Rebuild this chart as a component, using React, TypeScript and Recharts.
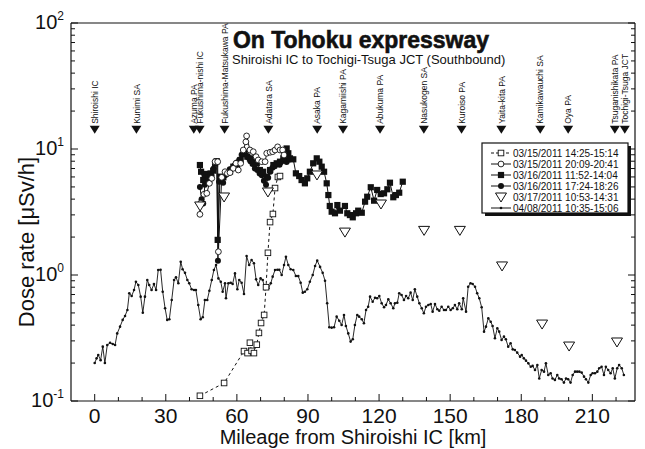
import React from 'react';
import { ComposedChart, Line, Scatter, XAxis, YAxis } from 'recharts';

const FONT = '"Liberation Sans", Arial, sans-serif';
const INK = '#111';

// ---- axes ----
const X_DOMAIN = [-10, 228];
const X_TICKS = [0, 10, 20, 30, 40, 50, 60, 70, 80, 90, 100, 110, 120, 130, 140, 150, 160, 170, 180, 190, 200, 210, 220];
const X_LABELS = [0, 30, 60, 90, 120, 150, 180, 210];
const Y_DOMAIN = [0.1, 100];
const Y_MAJOR = [0.1, 1, 10, 100];
const Y_EXPONENTS = ['-1', '0', '1', '2'];
const Y_MINOR = [0.2, 0.3, 0.4, 0.5, 0.6, 0.7, 0.8, 0.9, 2, 3, 4, 5, 6, 7, 8, 9, 20, 30, 40, 50, 60, 70, 80, 90];
const Y_ALL_TICKS = [...Y_MAJOR, ...Y_MINOR].sort((a, b) => a - b);

// ---- landmarks along the expressway (km) ----
const LANDMARK_NAMES = ['Shiroishi IC', 'Kunimi SA', 'Azuma PA', 'Fukushima-nishi IC', 'Fukushima-Matsukawa PA', 'Adatara SA', 'Asaka PA', 'Kagamiishi PA', 'Abukuma PA', 'Nasukogen SA', 'Kuroiso PA', 'Yaita-kita PA', 'Kamikawauchi SA', 'Oya PA', 'Tsuganishikata PA', 'Tochigi-Tsuga JCT'];
const LANDMARK_KM = [0, 17.6, 41.8, 44.3, 54.8, 73.3, 93.9, 104.8, 120.4, 138.9, 154.8, 171.6, 188.0, 199.8, 219.5, 223.7];
const LANDMARK_LEVEL = 14.2;

// ---- series: [km, dose rate µSv/h] ----
const S_0315_1425 = [[44.4, 0.110], [54.6, 0.139], [63.0, 0.249], [64.5, 0.24], [65.5, 0.29], [66.2, 0.25], [67.2, 0.24], [68.4, 0.28], [69.3, 0.347], [70.2, 0.416], [71.5, 0.482], [72.3, 0.80], [73.1, 1.50], [74.0, 2.63], [75.2, 3.05], [76.1, 4.90], [77.3, 6.0], [78.2, 6.1]];

const S_0315_2009 = [[44.4, 3.03], [44.7, 3.71], [46.1, 4.37], [47.3, 4.45], [48.4, 5.34], [49.4, 5.85], [50.8, 7.93], [51.9, 7.93], [52.2, 1.53], [53.6, 5.96], [55.0, 6.6], [56.0, 6.41], [57.1, 6.49], [58.5, 7.03], [59.6, 7.7], [60.6, 6.81], [61.6, 7.7], [62.7, 9.82], [63.8, 11.4], [64.1, 12.7], [65.5, 9.82], [66.9, 9.52], [68.1, 8.69], [69.0, 8.18], [70.5, 7.93], [71.9, 7.93], [72.6, 9.25], [74.0, 9.42], [75.1, 9.52], [76.1, 9.82], [77.2, 10.4], [78.2, 9.82], [79.3, 9.82], [79.9, 8.96]];

const S_0316_1152 = [[44.4, 7.46], [44.9, 6.6], [45.8, 5.67], [46.5, 6.34], [47.9, 5.96], [48.9, 6.4], [50.0, 6.73], [50.8, 7.7], [51.5, 8.0], [51.9, 1.9], [52.9, 6.03], [54.3, 5.96], [55.4, 6.4], [57.1, 6.6], [58.5, 7.24], [59.9, 7.46], [61.6, 8.18], [63.0, 9.25], [64.4, 8.69], [65.5, 8.43], [66.9, 8.18], [68.4, 7.7], [69.7, 6.81], [71.1, 6.6], [72.6, 6.03], [74.0, 6.81], [75.4, 7.46], [76.8, 7.7], [78.2, 7.93], [79.6, 8.43], [81.0, 10.1], [81.7, 9.25], [82.4, 8.43], [83.8, 8.28], [84.9, 6.41], [86.3, 6.1], [87.3, 5.67], [88.7, 5.34], [89.7, 5.85], [90.8, 6.6], [92.2, 7.7], [93.7, 8.43], [94.8, 7.93], [95.8, 7.24], [96.8, 6.6], [97.9, 5.34], [98.6, 4.31], [99.2, 3.53], [100.0, 3.18], [101.4, 3.09], [102.4, 3.59], [103.5, 3.24], [105.6, 3.53], [106.6, 3.09], [107.7, 2.99], [108.9, 2.87], [110.3, 3.09], [111.2, 3.24], [112.7, 3.12], [114.1, 3.82], [115.0, 4.18], [116.5, 4.97], [117.9, 3.89], [119.2, 4.73], [120.7, 4.39], [122.1, 4.45], [123.5, 4.79], [124.6, 5.4], [126.0, 4.14], [127.1, 4.31], [128.5, 4.5], [130.0, 5.5]];

const S_0316_1724 = [[44.4, 5.0], [45.1, 4.0], [45.8, 3.7], [46.5, 5.2], [47.4, 5.8], [48.4, 5.4], [49.3, 6.2], [50.2, 7.0], [51.0, 7.8], [51.6, 8.0], [52.0, 1.3], [52.5, 5.5], [53.3, 6.0], [54.2, 5.4], [55.1, 6.2], [56.0, 6.4], [57.0, 6.9], [58.0, 7.0], [59.0, 7.4], [60.0, 7.8], [61.0, 8.2], [62.0, 9.0], [62.9, 9.6], [63.8, 9.0], [64.7, 8.6], [65.7, 8.0], [66.6, 7.6], [67.6, 7.0], [68.6, 6.8], [69.6, 6.4], [70.5, 6.2], [71.4, 5.6], [72.3, 5.2], [73.2, 5.9], [74.1, 6.6], [75.0, 7.1], [76.0, 7.3], [77.0, 7.6], [78.0, 7.5], [79.0, 8.0], [80.0, 8.4], [81.0, 7.9], [82.0, 8.2]];

const S_0317 = [[44.5, 3.53], [54.6, 4.16], [73.1, 4.56], [93.8, 6.22], [105.6, 2.19], [120.8, 3.66], [139.0, 2.26], [154.1, 2.26], [171.9, 1.18], [188.8, 0.408], [200.2, 0.273], [220.4, 0.294]];

const S_0408 = [[0, 0.20], [0.8, 0.218], [1.5, 0.232], [2.5, 0.211], [3.4, 0.27], [4.3, 0.20], [5.3, 0.278], [6.5, 0.29], [7.6, 0.283], [8.6, 0.278], [9.5, 0.344], [10.7, 0.389], [11.8, 0.44], [12.8, 0.473], [13.8, 0.528], [14.6, 0.716], [15.6, 0.681], [16.6, 0.76], [17.4, 0.885], [18.4, 0.833], [19.4, 0.673], [20.3, 0.502], [21.2, 0.673], [22.2, 0.913], [23.0, 0.833], [24.0, 0.76], [25.0, 0.849], [25.9, 0.76], [26.8, 1.096], [27.8, 1.10], [28.7, 0.737], [29.7, 0.544], [30.6, 0.44], [31.5, 0.445], [32.5, 0.633], [33.5, 0.913], [34.3, 0.958], [35.3, 0.859], [36.3, 1.275], [37.1, 1.11], [38.1, 1.04], [39.1, 0.913], [39.9, 0.859], [40.9, 0.77], [41.9, 0.76], [42.7, 0.76], [43.7, 0.578], [44.7, 0.445], [45.6, 0.462], [46.5, 0.633], [47.5, 0.633], [48.4, 0.75], [49.4, 0.913], [50.3, 1.096], [51.2, 1.2], [52.2, 0.94], [53.2, 0.885], [54.0, 0.737], [55.0, 0.859], [55.4, 0.653], [56.4, 0.859], [57.4, 0.869], [58.2, 0.849], [59.2, 1.03], [60.2, 0.77], [61.0, 0.913], [62.0, 0.869], [63.0, 0.707], [64.1, 1.415], [65.2, 1.2], [66.2, 1.315], [67.2, 1.24], [68.1, 0.924], [69.0, 0.833], [70.0, 0.94], [70.9, 0.913], [71.9, 0.77], [72.6, 0.807], [73.3, 0.784], [74.3, 0.859], [75.1, 0.97], [76.1, 1.096], [77.1, 1.10], [77.9, 1.10], [78.9, 1.0], [79.9, 1.2], [80.7, 1.397], [81.7, 1.2], [82.7, 1.11], [83.8, 1.096], [84.9, 0.982], [85.9, 0.98], [86.9, 0.869], [87.8, 0.724], [88.7, 0.737], [89.7, 0.77], [90.8, 0.885], [92.0, 1.0], [93.0, 1.18], [93.9, 1.30], [95.1, 1.16], [96.2, 1.04], [97.2, 0.90], [98.1, 0.596], [99.0, 0.385], [100.0, 0.382], [101.0, 0.385], [102.1, 0.467], [103.2, 0.434], [104.2, 0.401], [105.2, 0.482], [106.0, 0.394], [107.0, 0.344], [108.0, 0.296], [108.9, 0.309], [109.8, 0.401], [110.8, 0.482], [111.6, 0.467], [112.7, 0.445], [113.6, 0.414], [114.5, 0.528], [115.4, 0.56], [116.2, 0.673], [117.3, 0.614], [118.3, 0.66], [119.2, 0.653], [120.1, 0.681], [121.1, 0.596], [122.1, 0.554], [122.9, 0.578], [123.9, 0.641], [124.9, 0.596], [126.0, 0.544], [126.7, 0.596], [127.7, 0.603], [128.5, 0.716], [129.5, 0.694], [130.5, 0.633], [131.4, 0.681], [132.3, 0.653], [133.3, 0.724], [134.2, 0.633], [135.1, 0.77], [136.1, 0.673], [137.0, 0.596], [138.0, 0.544], [138.9, 0.497], [139.8, 0.56], [140.8, 0.578], [141.8, 0.589], [142.6, 0.512], [143.6, 0.589], [144.6, 0.535], [145.4, 0.52], [146.4, 0.56], [147.4, 0.528], [148.2, 0.528], [149.2, 0.56], [150.2, 0.528], [151.1, 0.544], [152.0, 0.578], [153.0, 0.535], [153.8, 0.596], [154.9, 0.535], [155.5, 0.653], [156.7, 0.512], [157.6, 0.807], [158.6, 0.859], [159.5, 0.849], [160.5, 0.807], [161.4, 0.716], [162.3, 0.653], [163.3, 0.554], [164.3, 0.355], [165.1, 0.389], [166.1, 0.453], [167.1, 0.426], [167.9, 0.394], [168.9, 0.315], [169.9, 0.378], [170.7, 0.355], [171.7, 0.305], [172.7, 0.324], [173.5, 0.309], [174.5, 0.27], [175.5, 0.287], [176.4, 0.257], [177.3, 0.254], [178.3, 0.242], [179.5, 0.225], [180.2, 0.232], [181.1, 0.218], [182.0, 0.209], [183.0, 0.199], [184.0, 0.187], [184.8, 0.19], [185.8, 0.176], [186.8, 0.193], [187.6, 0.151], [188.6, 0.176], [189.6, 0.171], [190.4, 0.199], [191.4, 0.161], [192.4, 0.166], [193.2, 0.151], [194.2, 0.147], [195.2, 0.161], [196.0, 0.151], [197.0, 0.149], [198.0, 0.14], [198.9, 0.151], [199.8, 0.149], [200.8, 0.14], [201.7, 0.161], [202.7, 0.171], [203.6, 0.171], [204.5, 0.171], [205.5, 0.168], [206.5, 0.156], [207.3, 0.149], [208.3, 0.14], [209.3, 0.161], [210.1, 0.166], [211.1, 0.166], [212.1, 0.171], [212.9, 0.182], [213.9, 0.187], [214.9, 0.161], [215.7, 0.187], [216.7, 0.176], [217.7, 0.166], [218.6, 0.182], [219.5, 0.151], [220.5, 0.182], [221.3, 0.193], [222.4, 0.182], [223.3, 0.161]];

const SERIES_NAMES = ['03/15/2011 14:25-15:14', '03/15/2011 20:09-20:41', '03/16/2011 11:52-14:04', '03/16/2011 17:24-18:26', '03/17/2011 10:53-14:31', '04/08/2011 10:35-15:06'];

const toPoints = (arr: number[][]) => arr.map(([km, v]) => ({ km, v }));
const landmarkData = LANDMARK_NAMES.map((name, i) => ({ km: LANDMARK_KM[i], v: LANDMARK_LEVEL, name }));

// ---- marker shapes ----
const markerEl = (kind: string, cx: number, cy: number, key?: any) => {
  if (cx == null || cy == null || isNaN(cx) || isNaN(cy)) return <g key={key} />;
  switch (kind) {
    case 'openSquare':
      return <rect key={key} x={cx - 2.8} y={cy - 2.8} width={5.6} height={5.6} fill="#fff" stroke={INK} strokeWidth={0.9} />;
    case 'openCircle':
      return <circle key={key} cx={cx} cy={cy} r={2.9} fill="#fff" stroke={INK} strokeWidth={0.9} />;
    case 'filledSquare':
      return <rect key={key} x={cx - 3.1} y={cy - 3.1} width={6.2} height={6.2} fill={INK} />;
    case 'filledCircle':
      return <circle key={key} cx={cx} cy={cy} r={3} fill={INK} />;
    case 'openTriangle':
      return <polygon key={key} points={`${cx - 5.5},${cy - 4} ${cx + 5.5},${cy - 4} ${cx},${cy + 5}`} fill="#fff" stroke={INK} strokeWidth={1} />;
    case 'dot':
      return <circle key={key} cx={cx} cy={cy} r={1.3} fill={INK} />;
    default:
      return <g key={key} />;
  }
};
const dotFn = (kind: string) => (p: any) => markerEl(kind, p.cx, p.cy, p.key ?? `${kind}-${p.index}`);

const SERIES_STYLE = [
  { kind: 'openSquare', dash: '3 3', line: true },
  { kind: 'openCircle', dash: undefined, line: true },
  { kind: 'filledSquare', dash: undefined, line: true },
  { kind: 'filledCircle', dash: undefined, line: true },
  { kind: 'openTriangle', dash: undefined, line: false },
  { kind: 'dot', dash: undefined, line: true },
];

// ---- ticks (inward tick marks) ----
const XTick = (p: any) => {
  const v = p.payload.value;
  const major = v % 30 === 0;
  return (
    <g>
      <line x1={p.x} x2={p.x} y1={p.y} y2={p.y - (major ? 7 : 4)} stroke={INK} strokeWidth={1} />
      {X_LABELS.includes(v) ? (
        <text x={p.x} y={p.y + 22} textAnchor="middle" fontSize={21} fontFamily={FONT} fill={INK}>{v}</text>
      ) : null}
    </g>
  );
};
const YTickLeft = (p: any) => {
  const v = p.payload.value;
  const idx = Y_MAJOR.indexOf(v);
  if (idx < 0) return <line x1={p.x} x2={p.x + 4} y1={p.y} y2={p.y} stroke={INK} strokeWidth={1} />;
  return (
    <g>
      <line x1={p.x} x2={p.x + 7} y1={p.y} y2={p.y} stroke={INK} strokeWidth={1} />
      <text x={p.x - 7} y={p.y + 6} textAnchor="end" fontSize={20} fontFamily={FONT} fill={INK}>
        10<tspan dy={-9} fontSize={12}>{Y_EXPONENTS[idx]}</tspan>
      </text>
    </g>
  );
};
const YTickRight = (p: any) => {
  const major = Y_MAJOR.includes(p.payload.value);
  return <line x1={p.x} x2={p.x - (major ? 7 : 4)} y1={p.y} y2={p.y} stroke={INK} strokeWidth={1} />;
};

const LandmarkShape = (p: any) => {
  const { cx, cy, payload } = p;
  const tx = cx + 3.2;
  const ty = cy - 6;
  return (
    <g>
      <polygon points={`${cx - 5},${cy - 4} ${cx + 5},${cy - 4} ${cx},${cy + 4}`} fill={INK} />
      <text x={tx} y={ty} transform={`rotate(-90 ${tx} ${ty})`} fontSize={8.5} fontFamily={FONT} fill={INK}>{payload.name}</text>
    </g>
  );
};
const TriangleShape = (p: any) => markerEl('openTriangle', p.cx, p.cy);

const SERIES_DATA = [S_0315_1425, S_0315_2009, S_0316_1152, S_0316_1724, S_0317, S_0408];

export default function App() {
  const drawOrder = [5, 0, 3, 2, 1, 4];
  const axisLine = { stroke: INK, strokeWidth: 1.2 };
  return (
    <div style={{ position: 'absolute', left: 0, top: 0, width: 645, height: 449, background: '#fff' }}>
      <ComposedChart width={645} height={449} margin={{ top: 0, right: 0, bottom: 0, left: 0 }}>
        <XAxis dataKey="km" type="number" domain={X_DOMAIN} allowDataOverflow ticks={X_TICKS} interval={0}
          height={48} tickSize={0} tickMargin={0} tickLine={false} tick={XTick} axisLine={axisLine} />
        <XAxis xAxisId="top" orientation="top" dataKey="km" type="number" domain={X_DOMAIN} allowDataOverflow
          height={23} tick={false} tickLine={false} axisLine={axisLine} />
        <YAxis scale="log" type="number" domain={Y_DOMAIN} allowDataOverflow ticks={Y_ALL_TICKS} interval={0}
          width={71} tickSize={0} tickMargin={0} tickLine={false} tick={YTickLeft} axisLine={axisLine} />
        <YAxis yAxisId="right" orientation="right" scale="log" type="number" domain={Y_DOMAIN} allowDataOverflow
          ticks={Y_ALL_TICKS} interval={0} width={10} tickSize={0} tickMargin={0} tickLine={false}
          tick={YTickRight} axisLine={axisLine} />

        <Scatter name="landmarks" data={landmarkData} dataKey="v" shape={LandmarkShape} isAnimationActive={false} legendType="none" />

        {drawOrder.map((i) => {
          const st = SERIES_STYLE[i];
          if (!st.line) {
            return (
              <Scatter key={i} name={SERIES_NAMES[i]} data={toPoints(SERIES_DATA[i])} dataKey="v"
                shape={TriangleShape} isAnimationActive={false} />
            );
          }
          return (
            <Line key={i} name={SERIES_NAMES[i]} data={toPoints(SERIES_DATA[i])} dataKey="v" type="linear"
              stroke={INK} strokeWidth={i === 5 ? 0.9 : 1} strokeDasharray={st.dash}
              dot={dotFn(st.kind)} activeDot={false} isAnimationActive={false} />
          );
        })}
      </ComposedChart>

      <svg width={645} height={449} style={{ position: 'absolute', left: 0, top: 0, pointerEvents: 'none' }}>
        <text x={233} y={48} fontSize={23} fontWeight={900} fontFamily={FONT} fill={INK} textLength={256} lengthAdjust="spacingAndGlyphs" stroke={INK} strokeWidth={0.6}>On Tohoku expressway</text>
        <text x={232} y={64} fontSize={13} fontFamily={FONT} fill={INK}>Shiroishi IC to Tochigi-Tsuga JCT (Southbound)</text>
        <text x={353} y={444} textAnchor="middle" fontSize={20} fontFamily={FONT} fill={INK}>Mileage from Shiroishi IC [km]</text>
        <text x={34} y={242} transform="rotate(-90 34 242)" textAnchor="middle" fontSize={22} fontFamily={FONT} fill={INK}>Dose rate [μSv/h]</text>

        <rect x={485} y={146} width={146} height={70} fill={INK} />
        <rect x={482} y={143} width={146} height={70} fill="#fff" stroke={INK} strokeWidth={1.2} />
        {SERIES_NAMES.map((name, i) => {
          const st = SERIES_STYLE[i];
          const cy = 153 + i * 11;
          return (
            <g key={name}>
              {st.line ? <line x1={491} x2={511} y1={cy} y2={cy} stroke={INK} strokeWidth={1} strokeDasharray={st.dash ? '3 2' : undefined} /> : null}
              {markerEl(st.kind, 501, cy)}
              <text x={513} y={cy + 3.6} fontSize={10} fontFamily={FONT} fill={INK}>{name}</text>
            </g>
          );
        })}
      </svg>
    </div>
  );
}
